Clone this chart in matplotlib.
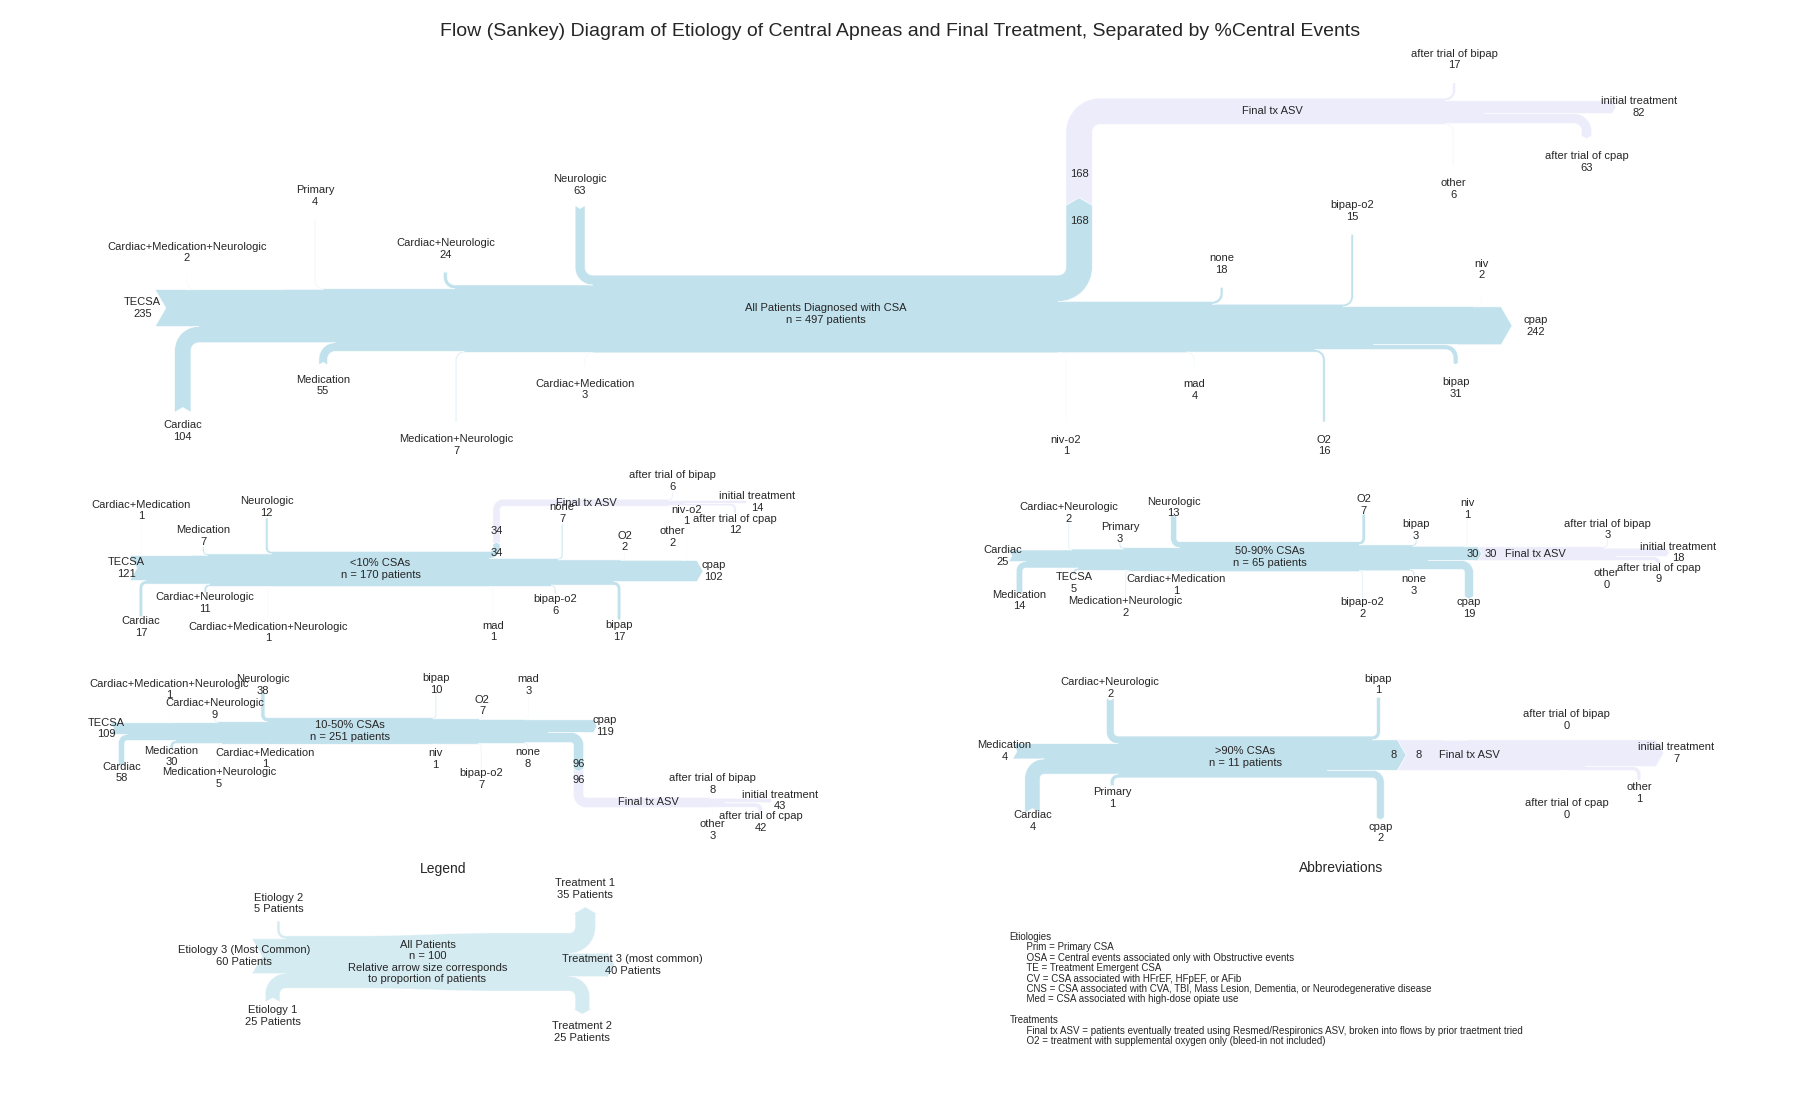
import matplotlib
matplotlib.use("Agg")
import matplotlib.pyplot as plt
from matplotlib.sankey import Sankey

plt.rcParams['font.family'] = ['Liberation Sans', 'DejaVu Sans']
plt.rcParams['font.size'] = 8
plt.rcParams['text.color'] = '.15'

# --- データ ---
# 全患者
all_etio = ['TECSA', 'Neurologic', 'Cardiac+Neurologic', 'Primary',
            'Cardiac+Medication+Neurologic', 'Cardiac', 'Medication',
            'Medication+Neurologic', 'Cardiac+Medication']
all_etio_n = [235, 63, 24, 4, 2, 104, 55, 7, 3]
all_tx = ['Final tx ASV', 'none', 'bipap-o2', 'niv', 'cpap', 'bipap', 'O2', 'mad', 'niv-o2']
all_tx_n = [168, 18, 15, 2, 242, 31, 16, 4, 1]
all_asv = ['after trial of bipap', 'initial treatment', 'after trial of cpap', 'other']
all_asv_n = [17, 82, 63, 6]

# <10% CSAs
lt10_etio = ['TECSA', 'Neurologic', 'Medication', 'Cardiac+Medication',
             'Cardiac', 'Cardiac+Neurologic', 'Cardiac+Medication+Neurologic']
lt10_etio_n = [121, 12, 7, 1, 17, 11, 1]
lt10_tx = ['Final tx ASV', 'none', 'O2', 'niv-o2', 'cpap', 'bipap', 'bipap-o2', 'mad']
lt10_tx_n = [34, 7, 2, 1, 102, 17, 6, 1]
lt10_asv = ['after trial of bipap', 'initial treatment', 'after trial of cpap', 'other']
lt10_asv_n = [6, 14, 12, 2]

# 50-90% CSAs
mid_etio = ['Cardiac', 'Neurologic', 'Primary', 'Cardiac+Neurologic',
            'Medication', 'TECSA', 'Medication+Neurologic', 'Cardiac+Medication']
mid_etio_n = [25, 13, 3, 2, 14, 5, 2, 1]
mid_tx = ['O2', 'bipap', 'niv', 'Final tx ASV', 'cpap', 'none', 'bipap-o2']
mid_tx_n = [7, 3, 1, 30, 19, 3, 2]
mid_asv = ['after trial of bipap', 'initial treatment', 'after trial of cpap', 'other']
mid_asv_n = [3, 18, 9, 0]

# 10-50% CSAs
low_etio = ['TECSA', 'Neurologic', 'Cardiac+Neurologic', 'Cardiac+Medication+Neurologic',
            'Cardiac', 'Medication', 'Medication+Neurologic', 'Cardiac+Medication']
low_etio_n = [109, 38, 9, 1, 58, 30, 5, 1]
low_tx = ['bipap', 'O2', 'mad', 'cpap', 'Final tx ASV', 'none', 'bipap-o2', 'niv']
low_tx_n = [10, 7, 3, 119, 96, 8, 7, 1]
low_asv = ['after trial of bipap', 'initial treatment', 'after trial of cpap', 'other']
low_asv_n = [8, 43, 42, 3]

# >90% CSAs
gt90_etio = ['Medication', 'Cardiac+Neurologic', 'Cardiac', 'Primary']
gt90_etio_n = [4, 2, 4, 1]
gt90_tx = ['bipap', 'Final tx ASV', 'cpap']
gt90_tx_n = [1, 8, 2]
gt90_asv = ['after trial of bipap', 'initial treatment', 'other', 'after trial of cpap']
gt90_asv_n = [0, 7, 1, 0]

# 凡例
leg_in = ['Etiology 3 (Most Common)', 'Etiology 2', 'Etiology 1']
leg_in_n = [60, 5, 25]
leg_out = ['Treatment 1', 'Treatment 3 (most common)', 'Treatment 2']
leg_out_n = [35, 40, 25]

abbrev_lines = [
    'Etiologies',
    '      Prim = Primary CSA',
    '      OSA = Central events associated only with Obstructive events',
    '      TE = Treatment Emergent CSA',
    '      CV = CSA associated with HFrEF, HFpEF, or AFib',
    '      CNS = CSA associated with CVA, TBI, Mass Lesion, Dementia, or Neurodegenerative disease',
    '      Med = CSA associated with high-dose opiate use',
    '',
    'Treatments',
    '      Final tx ASV = patients eventually treated using Resmed/Respironics ASV, broken into flows by prior traetment tried',
    '      O2 = treatment with supplemental oxygen only (bleed-in not included)',
]

# --- レイアウト (px / 単位 = 幹の太さ) ---
W, H = 1800, 1100
EPS = 1e-3   # 0人のフローも線とラベルを残す
S, L = 0.174, 0.894

layouts = {
    'all': dict(k=77.7, ox=825.5, oy=314, gap=1.647, offset=0.30, trunk=6.19,
                orient=[0, 1, 1, 1, 1, -1, -1, -1, -1, 1, 1, 1, 1, 0, -1, -1, -1, -1],
                paths=[0.25, L, S, L, S, L, S, L, S, 0.9, S, L, S, 0.25, S, L, S, L],
                asv_orient=[-1, 1, 0, -1, -1], asv_paths=[1.04, 0.19, 0.265, 0.16, 0.53],
                asv_trunk=4.64),
    'lt10': dict(k=35.1, ox=380.5, oy=569, gap=1.75, offset=0.31, trunk=6.41,
                 orient=[0, 1, 1, 1, -1, -1, -1, 1, 1, 1, 1, 0, -1, -1, -1],
                 paths=[0.27, 0.97, 0.21, 0.97, 0.95, 0.18, 1.0,
                        0.21, 0.97, 0.21, 0.97, 0.3, 0.97, 0.21, 0.97],
                 asv_orient=[-1, 1, 0, -1, -1], asv_paths=[1.08, 0.2, 0.27, 0.2, 0.57],
                 asv_trunk=4.9),
    'mid': dict(k=30.0, ox=1269.4, oy=556.7, gap=1.67, offset=0.30, trunk=6.18,
                orient=[0, 1, 1, 1, -1, -1, -1, -1, 1, 1, 1, 0, -1, -1, -1],
                paths=[0.25, 0.9, 0.2, 0.92, 0.85, 0.15, 0.9, 0.15,
                       0.9, 0.19, 0.93, 0.15, 0.9, 0.16, 0.9],
                asv_orient=[0, 1, 0, -1, -1], asv_paths=[1.21, 0.26, 0.2, 0.09, 0.32],
                asv_trunk=4.75),
    'low': dict(k=26.5, ox=350.1, oy=731, gap=1.717, offset=0.30, trunk=6.43,
                orient=[0, 1, 1, 1, -1, -1, -1, -1, 1, 1, 1, 0, -1, -1, -1, -1],
                paths=[0.3, 0.97, 0.2, 0.95, 0.98, 0.22, 0.98, 0.24,
                       0.96, 0.2, 1.0, 0.37, 0.99, 0.25, 1.0, 0.25],
                asv_orient=[1, 1, 0, -1, -1], asv_paths=[1.08, 0.2, 0.3, 0.22, 0.55],
                asv_trunk=4.86),
    'gt90': dict(k=41.8, ox=1245.3, oy=757, gap=1.68, offset=0.30, trunk=6.28,
                 orient=[0, 1, -1, -1, 1, 0, -1],
                 paths=[0.29, 0.91, 0.93, 0.2, 0.91, 0.32, 0.95],
                 asv_orient=[0, 1, 0, -1, -1], asv_paths=[1.09, 0.18, 0.36, 0.22, 0.62],
                 asv_trunk=4.64),
}

BLUE_KW = dict(facecolor='lightblue', edgecolor='white', alpha=0.75, lw=0.5)
ASV_KW = dict(facecolor='lavender', edgecolor='white', alpha=0.75, lw=0.5)


def fmt(v):
    return f'{abs(v):.0f}'


fig = plt.figure(figsize=(18, 11), dpi=100)


def place(ax, k, ox, oy):
    # データ座標 -> 図のピクセル
    ax.set_aspect('auto')
    ax.set_xlim(-ox / k, (W - ox) / k)
    ax.set_ylim((oy - H) / k, oy / k)


def draw(etio, etio_n, tx, tx_n, asv, asv_n, title, lay):
    ax = fig.add_axes([0, 0, 1, 1])
    ax.axis('off')
    ax.set_facecolor('none')
    total = sum(etio_n)
    sk = Sankey(ax=ax, scale=1.0 / total, format=fmt, unit='', gap=lay['gap'],
                offset=lay['offset'], head_angle=120, shoulder=0, margin=0)
    flows = list(etio_n) + [-n for n in tx_n]
    labels = list(etio) + ['' if t == 'Final tx ASV' else t for t in tx]
    sk.add(flows=flows, labels=labels, orientations=lay['orient'],
           pathlengths=lay['paths'], trunklength=lay['trunk'],
           patchlabel=f'{title}\nn = {total} patients', **BLUE_KW)
    i_asv = tx.index('Final tx ASV')
    asv_flows = [tx_n[i_asv]] + [-(n if n else EPS) for n in asv_n]
    sk.add(flows=asv_flows, labels=[''] + list(asv), orientations=lay['asv_orient'],
           pathlengths=lay['asv_paths'], trunklength=lay['asv_trunk'],
           prior=0, connect=(len(etio) + i_asv, 0), patchlabel='Final tx ASV', **ASV_KW)
    sk.finish()
    place(ax, lay['k'], lay['ox'], lay['oy'])


draw(all_etio, all_etio_n, all_tx, all_tx_n, all_asv, all_asv_n,
     'All Patients Diagnosed with CSA', layouts['all'])
draw(lt10_etio, lt10_etio_n, lt10_tx, lt10_tx_n, lt10_asv, lt10_asv_n,
     '<10% CSAs', layouts['lt10'])
draw(mid_etio, mid_etio_n, mid_tx, mid_tx_n, mid_asv, mid_asv_n,
     '50-90% CSAs', layouts['mid'])
draw(low_etio, low_etio_n, low_tx, low_tx_n, low_asv, low_asv_n,
     '10-50% CSAs', layouts['low'])
draw(gt90_etio, gt90_etio_n, gt90_tx, gt90_tx_n, gt90_asv, gt90_asv_n,
     '>90% CSAs', layouts['gt90'])

# 凡例の図
ax_leg = fig.add_axes([0, 0, 1, 1])
ax_leg.axis('off')
ax_leg.set_facecolor('none')
leg_sk = Sankey(ax=ax_leg, scale=1.0 / sum(leg_out_n), unit=None, gap=0.25,
                offset=0.31, head_angle=120, margin=0)
leg_sk.add(flows=list(leg_in_n) + [-n for n in leg_out_n],
           labels=[f'{a}\n{n} Patients' for a, n in zip(leg_in + leg_out, leg_in_n + leg_out_n)],
           orientations=[0, 1, -1, 1, 0, -1],
           pathlengths=[0.23, 0.26, 0.24, 0.33, 0.2, 0.31], trunklength=5.09,
           patchlabel=f'All Patients\nn = {sum(leg_out_n)}\nRelative arrow size corresponds\nto proportion of patients',
           facecolor='lightblue', edgecolor='white', alpha=0.5, lw=0.5)
leg_sk.finish()
place(ax_leg, 58, 427.5, 962)

fig.text(0.5, 1 - 31 / H,
         'Flow (Sankey) Diagram of Etiology of Central Apneas and Final Treatment, '
         'Separated by %Central Events', ha='center', va='center', fontsize=14)
fig.text(442.8 / W, 1 - 869.3 / H, 'Legend', ha='center', va='center', fontsize=10)
fig.text(1341 / W, 1 - 868.3 / H, 'Abbreviations', ha='center', va='center', fontsize=10)
fig.text(1009.6 / W, 1 - 932 / H, '\n'.join(abbrev_lines), ha='left', va='top',
         fontsize=7, linespacing=1.05)

fig.savefig('out.png', dpi=100, facecolor='white')
